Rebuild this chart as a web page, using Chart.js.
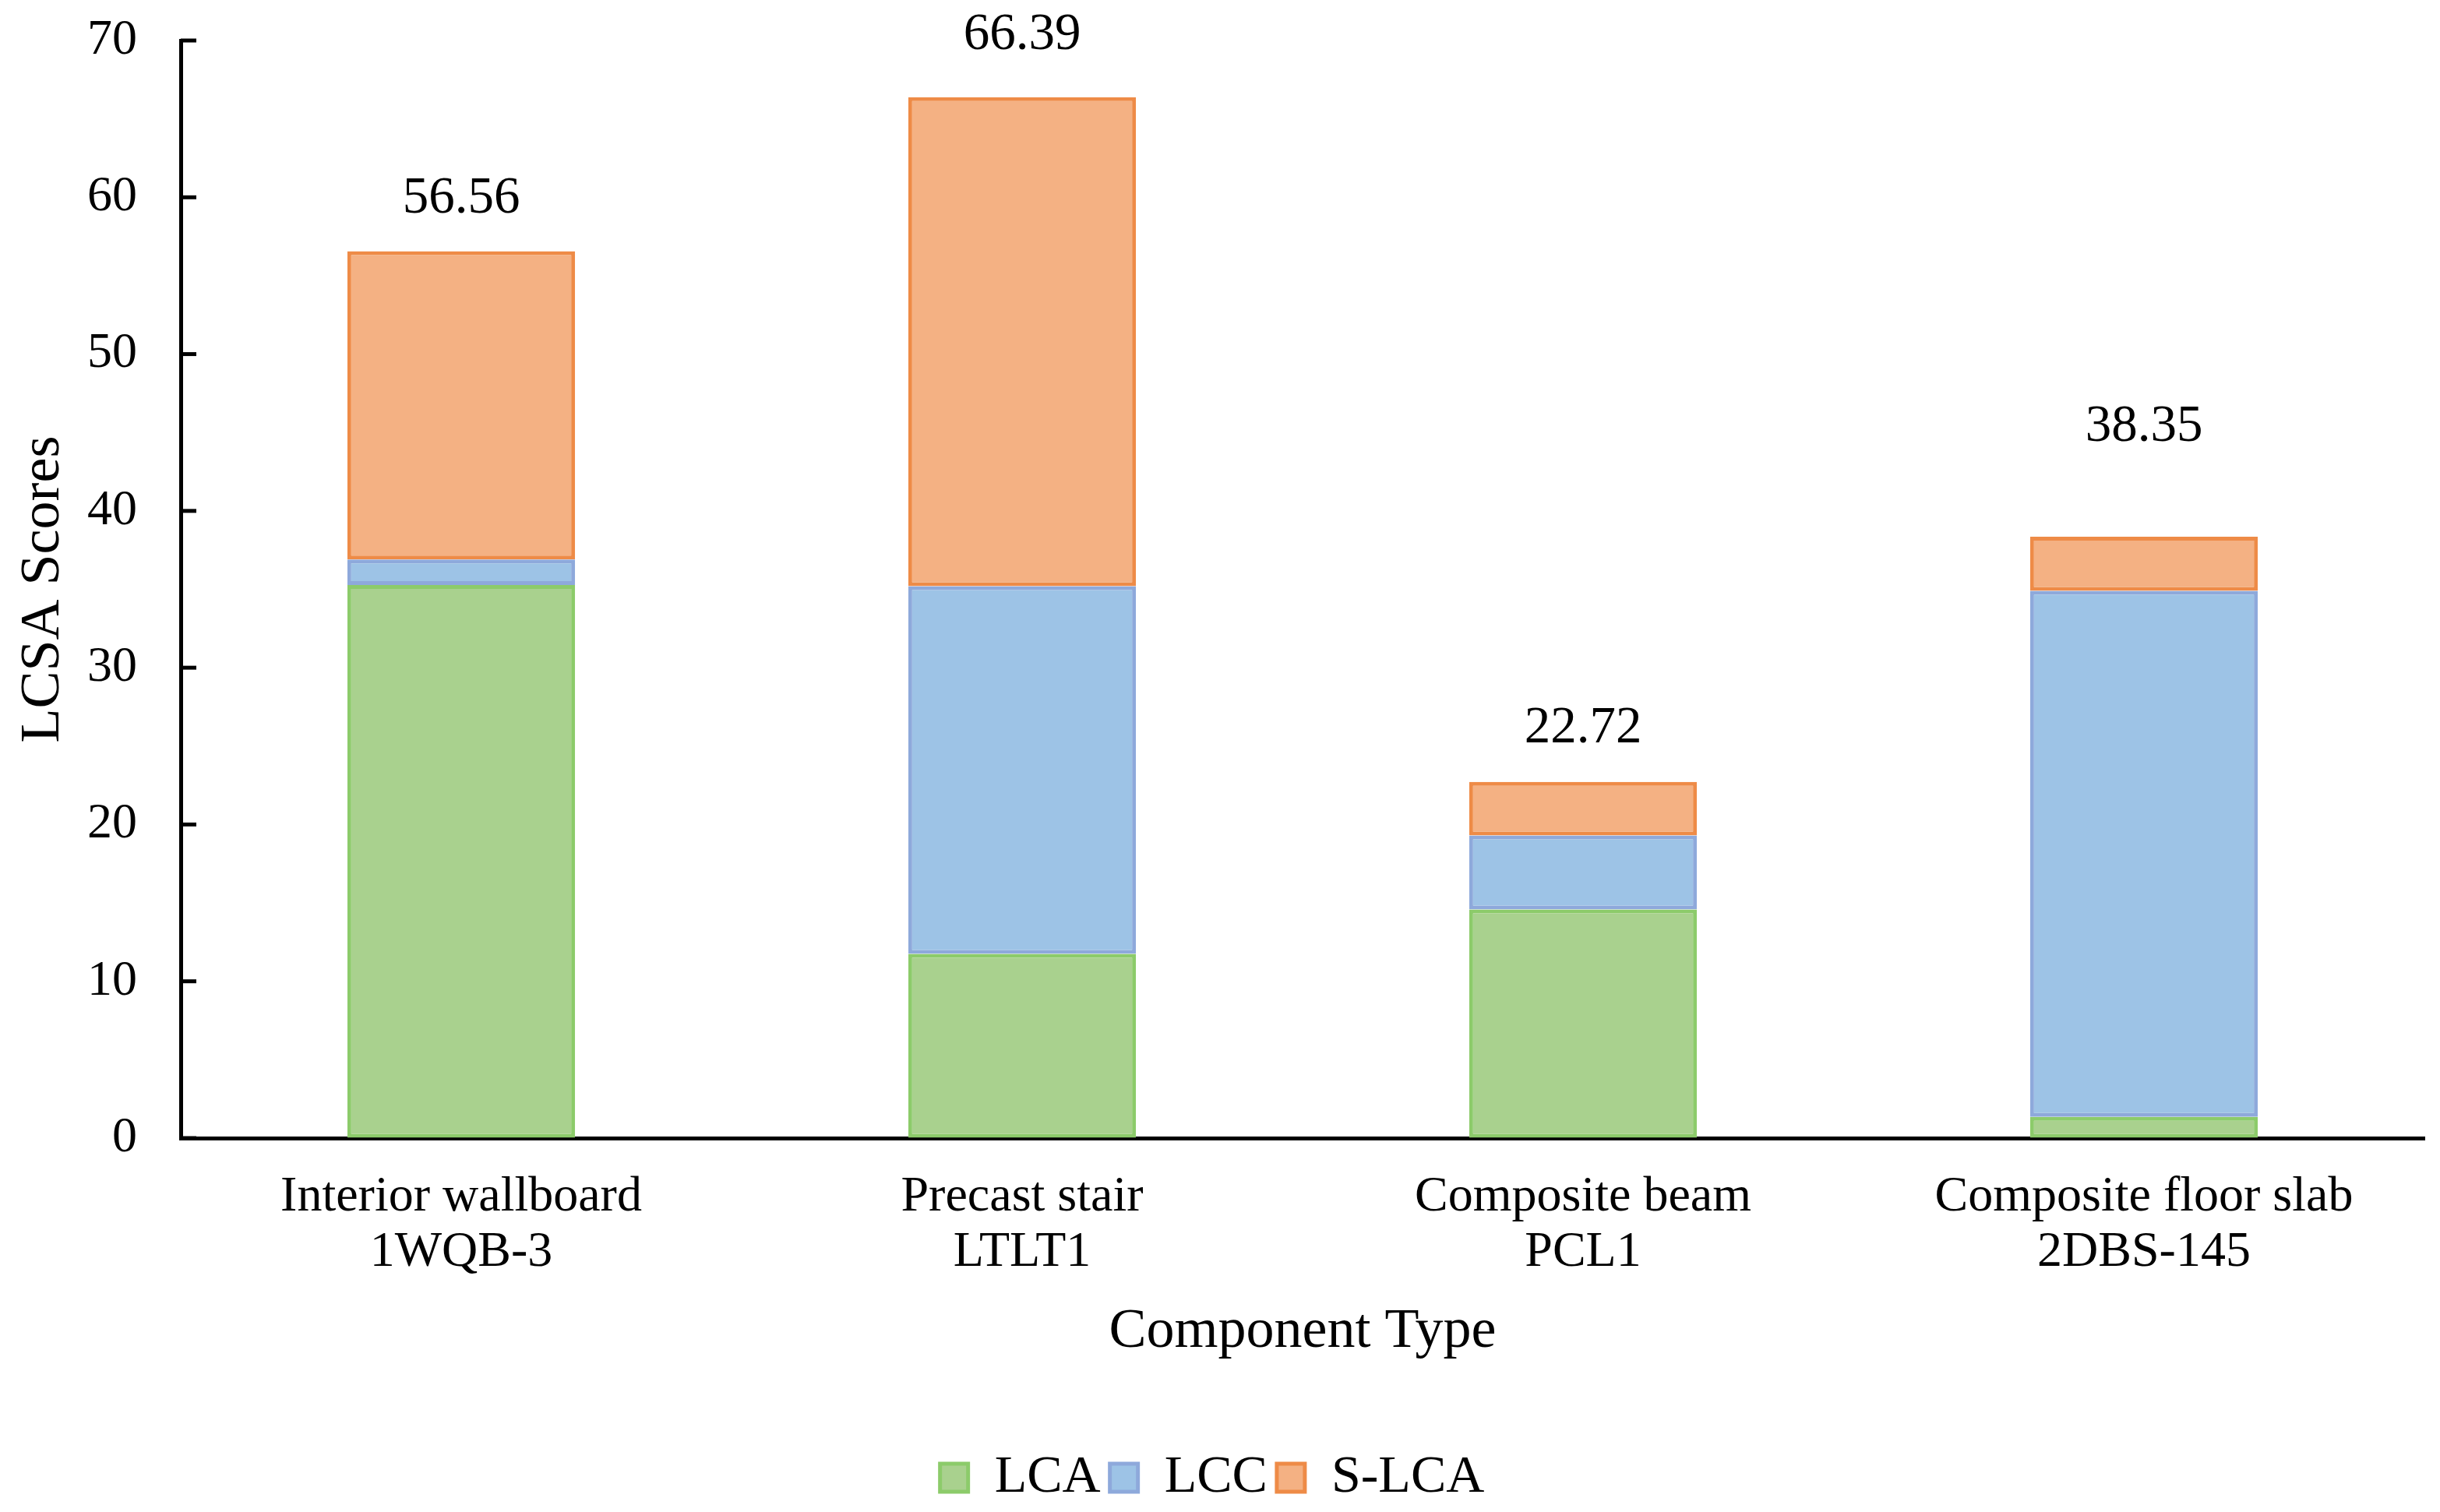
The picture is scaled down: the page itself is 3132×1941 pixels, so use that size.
<!DOCTYPE html>
<html>
<head>
<meta charset="utf-8">
<script src="https://cdn.jsdelivr.net/npm/chart.js@4.4.1/dist/chart.umd.min.js"></script>
<style>
  html, body { margin: 0; padding: 0; background: #fff; }
  #wrap { width: 3132px; height: 1941px; }
</style>
</head>
<body>
<div id="wrap"><canvas id="lcsa"></canvas></div>
<script>
// data
const categories = [
    ['Interior wallboard', '1WQB-3'],
    ['Precast stair', 'LTLT1'],
    ['Composite beam', 'PCL1'],
    ['Composite floor slab', '2DBS-145']
];
const lcaValues = [35.27, 11.75, 14.58, 1.35];
const lccValues = [1.63, 23.45, 4.72, 33.55];
const slcaValues = [19.66, 31.19, 3.42, 3.45];
const totalLabels = ['56.56', '66.39', '22.72', '38.35'];
const labelGap = [67, 79, 68, 141]; // how far each total label sits above its bar
const yTicks = [0, 10, 20, 30, 40, 50, 60, 70];

const serif = 'Liberation Serif';

// inward tick marks on the y axis, like the Excel original
const innerTicks = {
    id: 'innerTicks',
    afterDraw(chart) {
        const ctx = chart.ctx;
        const y = chart.scales.y;
        ctx.save();
        ctx.strokeStyle = '#000';
        ctx.lineWidth = 5;
        yTicks.forEach(v => {
            const py = y.getPixelForValue(v);
            ctx.beginPath();
            ctx.moveTo(y.right, py);
            ctx.lineTo(y.right + 20, py);
            ctx.stroke();
        });
        ctx.restore();
    }
};

// total value written above each stack
const totals = {
    id: 'totals',
    afterDatasetsDraw(chart) {
        const ctx = chart.ctx;
        const x = chart.scales.x;
        const y = chart.scales.y;
        ctx.save();
        ctx.font = '67px "' + serif + '"';
        ctx.fillStyle = '#000';
        ctx.textAlign = 'center';
        ctx.textBaseline = 'middle';
        categories.forEach((c, i) => {
            const sum = lcaValues[i] + lccValues[i] + slcaValues[i];
            ctx.fillText(totalLabels[i], x.getPixelForValue(i), y.getPixelForValue(sum) - labelGap[i]);
        });
        ctx.restore();
    }
};

new Chart(document.getElementById('lcsa'), {
    type: 'bar',
    data: {
        labels: categories,
        datasets: [{
            label: 'LCA',
            data: lcaValues,
            backgroundColor: '#A9D18E',
            borderColor: '#8CCB6A'
        }, {
            label: 'LCC',
            data: lccValues,
            backgroundColor: '#9DC3E6',
            borderColor: '#8EA9DB'
        }, {
            label: 'S-LCA',
            data: slcaValues,
            backgroundColor: '#F4B183',
            borderColor: '#EE8B47'
        }]
    },
    options: {
        responsive: true,
        maintainAspectRatio: false,
        devicePixelRatio: 1,
        animation: false,
        datasets: {
            bar: {
                borderWidth: 5,
                borderSkipped: false,
                categoryPercentage: 1,
                barPercentage: 0.406
            }
        },
        layout: { padding: { top: 52, right: 20, left: 0, bottom: 0 } },
        plugins: {
            tooltip: { enabled: false },
            legend: {
                position: 'bottom',
                labels: {
                    color: '#000',
                    font: { family: serif, size: 68 },
                    boxWidth: 36,
                    boxHeight: 36,
                    padding: 12
                }
            }
        },
        scales: {
            x: {
                stacked: true,
                grid: { display: false },
                border: { display: true, color: '#000', width: 5 },
                ticks: {
                    color: '#000',
                    font: { family: serif, size: 64, lineHeight: 1.12 },
                    padding: 32,
                    maxRotation: 0
                },
                title: {
                    display: true,
                    text: 'Component Type',
                    color: '#000',
                    font: { family: serif, size: 72 },
                    padding: { top: 0, bottom: 98 }
                },
                afterFit: s => { s.height = 390; }
            },
            y: {
                stacked: true,
                min: 0,
                max: 70,
                // invisible tick space keeps the labels off the axis
                grid: {
                    display: true,
                    drawOnChartArea: false,
                    drawTicks: true,
                    tickLength: 50,
                    color: 'rgba(0,0,0,0)'
                },
                border: { display: true, color: '#000', width: 5 },
                ticks: {
                    stepSize: 10,
                    color: '#000',
                    font: { family: serif, size: 64 },
                    padding: 6
                },
                title: {
                    display: true,
                    text: 'LCSA Scores',
                    color: '#000',
                    font: { family: serif, size: 72 },
                    padding: { top: 13, bottom: 0 }
                },
                afterFit: s => { s.width = 232; }
            }
        }
    },
    plugins: [innerTicks, totals]
});
</script>
</body>
</html>
